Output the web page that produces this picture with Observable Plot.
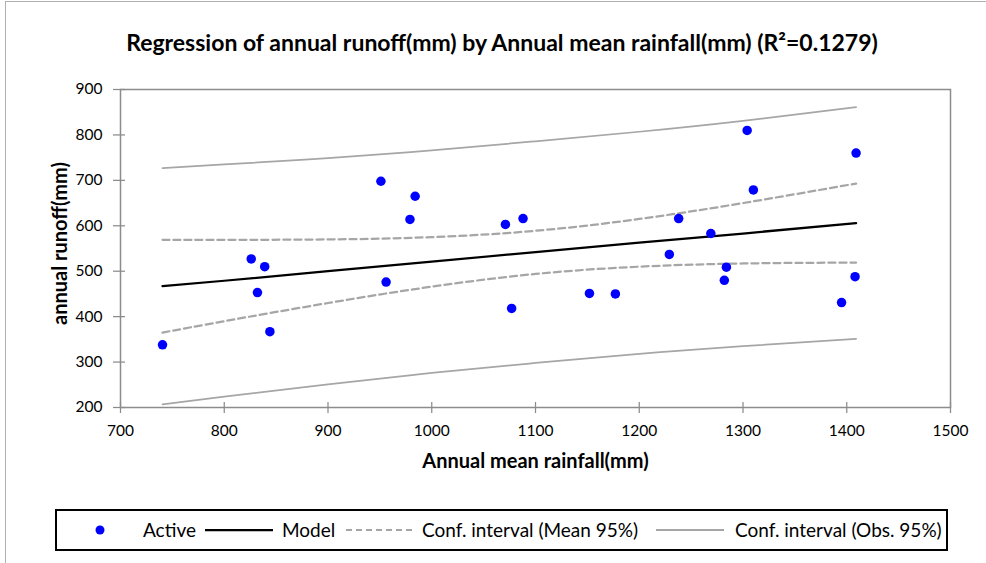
<!DOCTYPE html>
<html><head><meta charset="utf-8">
<script src="https://cdn.jsdelivr.net/npm/d3@7"></script>
<script src="https://cdn.jsdelivr.net/npm/@observablehq/plot@0.6"></script>
<style>
body{margin:0;background:#fff;font-family:Lato,"Open Sans",sans-serif;}
#wrap{position:relative;width:986px;height:563px;overflow:hidden;background:#fff;}
#frame{position:absolute;left:5px;top:1px;width:990px;height:600px;border-left:1px solid #b0b0b0;border-top:1px solid #b0b0b0;}
#title{position:absolute;left:0;width:1004px;top:29px;text-align:center;font-weight:bold;font-size:23px;line-height:26px;color:#000;white-space:nowrap;}
#chart{position:absolute;left:0;top:0;}
#legend{position:absolute;left:55px;top:509px;width:889px;height:38px;border:2px solid #000;background:#fff;}
.li{position:absolute;top:0;height:38px;line-height:38px;font-size:19px;color:#000;white-space:nowrap;}
.sw{position:absolute;top:0;}
</style></head>
<body>
<div id="wrap">
  <div id="frame"></div>
  <div id="chart"></div>
  <div id="title"></div>
  <div id="legend"></div>
</div>
<script>
// Observations (Annual mean rainfall mm, annual runoff mm)
const rainfall = [740.5, 826, 839, 832, 844, 951, 984, 979, 956, 1071, 1088, 1077, 1152, 1177, 1229, 1238, 1269, 1284, 1282, 1304, 1310, 1409, 1408, 1395];
const runoff   = [338, 527, 510, 453, 367, 698, 665, 614, 476, 603, 616, 418, 451, 450, 537, 616, 583, 509, 480, 810, 679, 760, 488, 431];

// Model line and confidence bands
const gridX      = [740.5, 800, 900, 1000, 1100, 1200, 1300, 1409];
const modelY     = [467, 479, 500, 521, 542, 563, 583, 606];
const meanUpper  = [569, 569, 570, 575, 589, 615, 650, 693];
const meanLower  = [365, 390, 430, 466, 494, 510, 517, 519];
const obsUpper   = [727, 735, 749, 766, 786, 807, 831, 861];
const obsLower   = [207, 224, 251, 276, 298, 318, 335, 351];

const xTicks = [700, 800, 900, 1000, 1100, 1200, 1300, 1400, 1500];
const yTicks = [200, 300, 400, 500, 600, 700, 800, 900];

const titleText = "Regression of annual runoff(mm) by Annual mean rainfall(mm) (R\u00B2=0.1279)";
const xLabel = "Annual mean rainfall(mm)";
const yLabel = "annual runoff(mm)";
const legendLabels = ["Active", "Model", "Conf. interval (Mean 95%)", "Conf. interval (Obs. 95%)"];

const pts = rainfall.map((x, i) => ({x, y: runoff[i]}));
const band = gridX.map((x, i) => ({x, model: modelY[i], mu: meanUpper[i], ml: meanLower[i], ou: obsUpper[i], ol: obsLower[i]}));

const gray = "#a6a6a6";
const axisGray = "#8c8c8c";
const fmt = d => String(d);

const chart = Plot.plot({
  width: 986, height: 480,
  marginLeft: 120, marginRight: 36, marginTop: 89, marginBottom: 73,
  style: {fontFamily: "Lato, 'Open Sans', sans-serif", background: "transparent", color: "#000", overflow: "visible"},
  x: {domain: [700, 1500]},
  y: {domain: [200, 900]},
  marks: [
    Plot.frame({stroke: axisGray, strokeWidth: 1.5}),
    Plot.axisX(xTicks, {tickSize: 11, dy: -5, stroke: axisGray, strokeWidth: 1.25, fill: "none", label: null}),
    Plot.axisX(xTicks, {tickSize: 0, tickPadding: 17, fontSize: 15.5, fill: "#000", tickFormat: fmt, label: null}),
    Plot.axisY(yTicks, {tickSize: 12, dx: 5, stroke: axisGray, strokeWidth: 1.25, fill: "none", label: null}),
    Plot.axisY(yTicks, {tickSize: 0, tickPadding: 18, fontSize: 15.5, fill: "#000", tickFormat: fmt, label: null}),
    Plot.line(band, {x: "x", y: "ou", stroke: gray, strokeWidth: 1.75, curve: "natural"}),
    Plot.line(band, {x: "x", y: "ol", stroke: gray, strokeWidth: 1.75, curve: "natural"}),
    Plot.line(band, {x: "x", y: "mu", stroke: gray, strokeWidth: 2.25, strokeDasharray: "7,4", curve: "natural"}),
    Plot.line(band, {x: "x", y: "ml", stroke: gray, strokeWidth: 2.25, strokeDasharray: "7,4", curve: "natural"}),
    Plot.line(band, {x: "x", y: "model", stroke: "#000", strokeWidth: 2.25}),
    Plot.dot(pts, {x: "x", y: "y", r: 4.75, fill: "#0000ff", stroke: null}),
    Plot.text([yLabel], {frameAnchor: "left", textAnchor: "middle", dx: -60, dy: -5, rotate: -90, fontWeight: "bold", fontSize: 20, fill: "#000"}),
    Plot.text([xLabel], {frameAnchor: "bottom", textAnchor: "middle", dy: 60, fontWeight: "bold", fontSize: 20, fill: "#000"})
  ]
});
document.getElementById("chart").appendChild(chart);
document.getElementById("title").textContent = titleText;

// Legend
const lg = document.getElementById("legend");
const ns = "http://www.w3.org/2000/svg";
function swatch(left, width, draw) {
  const s = document.createElementNS(ns, "svg");
  s.setAttribute("width", width); s.setAttribute("height", 38);
  s.setAttribute("class", "sw"); s.style.left = left + "px";
  draw(s); lg.appendChild(s);
}
function lineSw(left, width, stroke, sw, dash) {
  swatch(left, width, s => {
    const l = document.createElementNS(ns, "line");
    l.setAttribute("x1", 0); l.setAttribute("x2", width);
    l.setAttribute("y1", 19); l.setAttribute("y2", 19);
    l.setAttribute("stroke", stroke); l.setAttribute("stroke-width", sw);
    if (dash) l.setAttribute("stroke-dasharray", dash);
    s.appendChild(l);
  });
}
function label(left, text) {
  const d = document.createElement("div");
  d.className = "li"; d.style.left = left + "px"; d.textContent = text;
  lg.appendChild(d);
}
swatch(33, 20, s => {
  const c = document.createElementNS(ns, "circle");
  c.setAttribute("cx", 10); c.setAttribute("cy", 19); c.setAttribute("r", 4.5);
  c.setAttribute("fill", "#0000ff"); s.appendChild(c);
});
label(86, legendLabels[0]);
lineSw(148, 68, "#000", 2.25);
label(225, legendLabels[1]);
lineSw(289, 69, gray, 2, "6,4");
label(365, legendLabels[2]);
lineSw(599, 68, gray, 2);
label(678, legendLabels[3]);
</script>
</body></html>
